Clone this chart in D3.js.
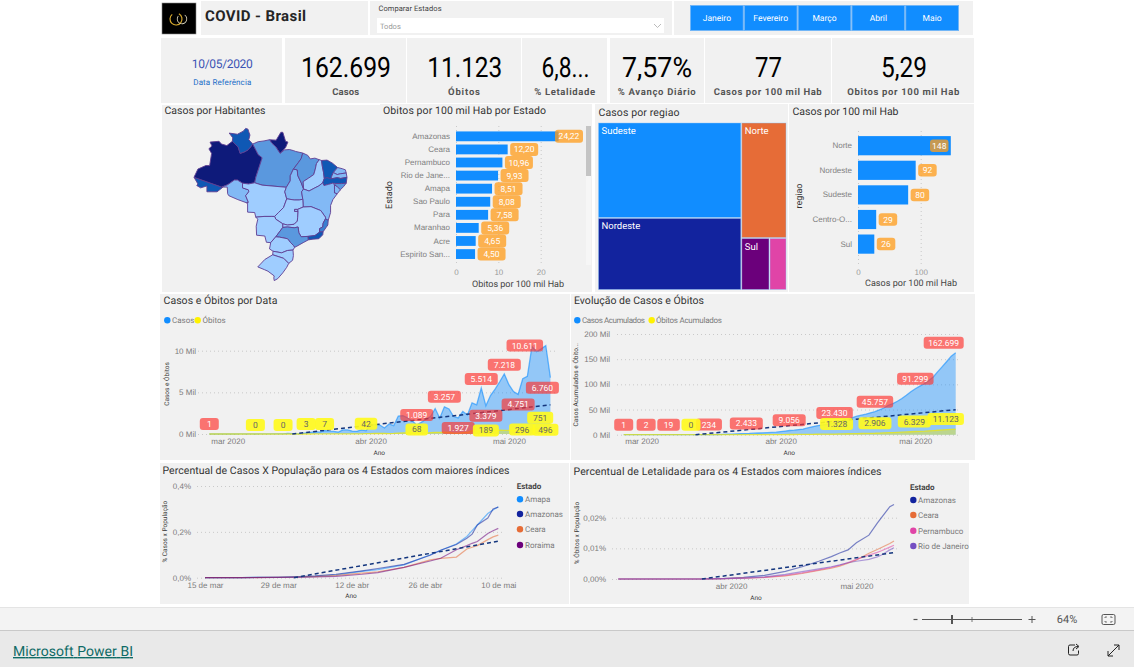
<!DOCTYPE html>
<html lang="pt-BR">
<head>
<meta charset="utf-8">
<title>COVID - Brasil</title>
<script src="https://cdn.jsdelivr.net/npm/d3@7/dist/d3.min.js"></script>
<style>
html,body{margin:0;padding:0;background:#fff;overflow:hidden}
svg{display:block;font-family:Roboto,"Noto Sans",sans-serif;text-rendering:geometricPrecision}
</style>
</head>
<body>
<svg id="c" width="1134" height="667" viewBox="0 0 1134 667"></svg>
<script>
// ---------- DATA ----------
const monthButtons = ["Janeiro","Fevereiro","Março","Abril","Maio"];
const kpiValues = ["162.699","11.123","6,8...","7,57%","77","5,29"];
const kpiLabels = ["Casos","Óbitos","% Letalidade","% Avanço Diário","Casos por 100 mil Hab","Obitos por 100 mil Hab"];

const stateNames = ["AC","AM","RR","AP","PA","RO","MT","TO","MA","PI","CE","RN","PB","PE","AL","SE","BA","GO","DF","MS","MG","ES","RJ","SP","PR","SC","RS"];
const stateBand  = [ 4,   5,   4,   5,   2,   1,   0,   1,   2,   0,   4,   1,   1,   4,   2,   1,   1,   0,   0,   0,   0,   3,   4,   2,   0,   0,   0 ];
const stateLonLat = [
 [[-73.9,-7.3],[-66.8,-9.8],[-66.6,-9.9],[-68,-11],[-69.5,-11],[-70.6,-11],[-70.6,-9.5],[-72.2,-10],[-73.2,-9.4],[-72.9,-9]],
 [[-73.9,-7.3],[-72.9,-5.2],[-70.9,-4.3],[-69.9,-4.3],[-69.4,-1.2],[-70.1,0],[-69.3,0.7],[-69.8,1.7],[-67.5,1.9],[-66.9,1.2],[-65.5,0.8],[-64.1,1.9],[-63.2,1],[-62.6,0.4],[-62.1,-1.2],[-61,-0.8],[-60.1,-0.3],[-59.4,0.5],[-58.9,1.2],[-58,-0.5],[-57.5,-1.5],[-56.5,-2.3],[-56.7,-3],[-58.1,-7.3],[-58.4,-8.7],[-60,-9],[-61.5,-8.8],[-62.8,-8],[-63.6,-8],[-65.3,-9.2],[-66.8,-9.8]],
 [[-60.7,5.2],[-60.1,5],[-59.9,4.3],[-59.6,3.5],[-59.9,2.3],[-58.9,1.2],[-59.4,0.5],[-60.1,-0.3],[-61,-0.8],[-62.1,-1.2],[-62.6,0.4],[-63.2,1],[-64.1,1.9],[-64,2.8],[-64.9,4],[-62.8,3.7],[-61.3,4.5]],
 [[-54.6,2.3],[-52.9,2.2],[-51.7,4.2],[-51.2,4.2],[-50.5,1.9],[-49.9,1.7],[-50.5,0.3],[-51.3,-0.6],[-51.9,-1.2],[-53,0.5],[-54,1.4]],
 [[-58.9,1.2],[-57.5,1.8],[-56,2],[-54.6,2.3],[-54,1.4],[-53,0.5],[-51.9,-1.2],[-50.8,-0.3],[-49.5,-0.2],[-48.4,-0.5],[-47.9,-0.7],[-46.1,-1.1],[-46.5,-2.5],[-47.2,-3.5],[-48.5,-5.2],[-49.3,-6.9],[-49.3,-8.2],[-50.3,-9.85],[-56.5,-9.3],[-58.4,-8.7],[-58.1,-7.3],[-56.7,-3],[-56.5,-2.3],[-57.5,-1.5],[-58,-0.5]],
 [[-66.8,-9.8],[-65.3,-9.2],[-63.6,-8],[-62.8,-8],[-61.5,-8.8],[-61.5,-10],[-60,-10.5],[-59.9,-11],[-60.7,-12],[-60,-13.7],[-60.5,-13.8],[-62.7,-13],[-65,-12],[-65.3,-11.5],[-65.4,-9.8]],
 [[-58.4,-8.7],[-56.5,-9.3],[-50.3,-9.85],[-50.7,-11],[-50.2,-12.8],[-51,-15],[-52.3,-16.3],[-53.3,-17.3],[-54,-17.3],[-56,-17.3],[-58.1,-17.5],[-58.4,-16.3],[-60.2,-16.2],[-60.2,-13.9],[-60.5,-13.8],[-60,-13.7],[-60.7,-12],[-59.9,-11],[-60,-10.5],[-61.5,-10],[-61.5,-8.8],[-60,-9]],
 [[-48.5,-5.2],[-47.5,-5.4],[-47.4,-6.8],[-46.5,-8.7],[-45.9,-10.3],[-46.4,-11],[-46.1,-12.9],[-47,-13.1],[-48.3,-13.1],[-50.2,-12.8],[-50.7,-11],[-50.3,-9.85],[-49.3,-8.2],[-49.3,-6.9]],
 [[-46.1,-1.1],[-44.8,-1.7],[-44.2,-2.6],[-43,-2.4],[-41.9,-2.8],[-42.6,-3.8],[-42.9,-5.2],[-43.3,-6.6],[-44.6,-7.5],[-46,-8.4],[-45.9,-10.3],[-46.5,-8.7],[-47.4,-6.8],[-47.5,-5.4],[-48.5,-5.2],[-47.2,-3.5],[-46.5,-2.5]],
 [[-41.9,-2.8],[-41.3,-3],[-41.1,-4.5],[-40.8,-6],[-40.6,-7.6],[-41,-8.7],[-42,-9.5],[-43,-10],[-44.5,-10.8],[-45.9,-10.3],[-46,-8.4],[-44.6,-7.5],[-43.3,-6.6],[-42.9,-5.2],[-42.6,-3.8]],
 [[-41.3,-3],[-39.9,-2.9],[-38.5,-3.7],[-37.2,-4.8],[-38.3,-6.1],[-38.7,-7],[-38.9,-7.7],[-39.9,-7.4],[-40.6,-7.6],[-40.8,-6],[-41.1,-4.5]],
 [[-37.2,-4.8],[-36,-5.1],[-35.2,-5.4],[-35,-6.2],[-36.5,-6.4],[-37.3,-6.6],[-38.3,-6.1]],
 [[-38.3,-6.1],[-37.3,-6.6],[-36.5,-6.4],[-35,-6.2],[-34.8,-7.3],[-36.4,-7.6],[-37.3,-7.4],[-38.9,-7.7],[-38.7,-7]],
 [[-40.6,-7.6],[-39.9,-7.4],[-38.9,-7.7],[-37.3,-7.4],[-36.4,-7.6],[-34.8,-7.3],[-35,-8.8],[-36.2,-8.9],[-37.6,-8.9],[-38.5,-8.8],[-39.5,-9.1],[-40.7,-9.4],[-41,-8.7]],
 [[-38,-9.2],[-37.6,-8.9],[-36.2,-8.9],[-35,-8.8],[-35.7,-9.7],[-36.5,-10.5],[-37.2,-9.8]],
 [[-38,-9.2],[-37.2,-9.8],[-36.5,-10.5],[-37.3,-11.5],[-38,-11.3],[-38,-10.5]],
 [[-46.1,-12.9],[-46.4,-11],[-45.9,-10.3],[-44.5,-10.8],[-43,-10],[-42,-9.5],[-41,-8.7],[-40.7,-9.4],[-39.5,-9.1],[-38.5,-8.8],[-38,-9.2],[-38,-10.5],[-38,-11.3],[-37.3,-11.5],[-38.4,-13],[-39,-14.5],[-39,-16.3],[-39.6,-18.3],[-40.3,-17.9],[-40.3,-17.5],[-41.5,-15.8],[-44,-14.8],[-46,-14.9]],
 [[-50.2,-12.8],[-48.3,-13.1],[-47,-13.1],[-46.1,-12.9],[-46,-14.9],[-47.4,-15.5],[-48.2,-15.5],[-48.2,-16],[-47.3,-16],[-47.4,-17.5],[-47.5,-18.5],[-48.3,-19.3],[-50,-19.5],[-51.2,-19.2],[-53,-18],[-53.3,-17.3],[-52.3,-16.3],[-51,-15]],
 [[-48.2,-15.5],[-47.4,-15.5],[-47.3,-16],[-48.2,-16]],
 [[-58.1,-17.5],[-57.6,-18],[-58,-19.8],[-57.9,-22.1],[-55.8,-22.3],[-55.4,-23.9],[-54.3,-24],[-53,-22.5],[-51.2,-20.1],[-51.2,-19.2],[-53,-18],[-53.3,-17.3],[-54,-17.3],[-56,-17.3]],
 [[-46,-14.9],[-44,-14.8],[-41.5,-15.8],[-40.3,-17.5],[-40.3,-17.9],[-40.9,-19],[-41,-20],[-41.8,-20.4],[-41.8,-21.3],[-43,-22.2],[-44.8,-22.4],[-46.5,-22.5],[-47.1,-21.5],[-47.3,-20],[-48.3,-20.2],[-50,-20],[-51.2,-20.1],[-51.2,-19.2],[-50,-19.5],[-48.3,-19.3],[-47.5,-18.5],[-47.4,-17.5],[-47.3,-16],[-47.4,-15.5]],
 [[-41.8,-21.3],[-40.9,-21.2],[-40.2,-20.2],[-39.7,-19.5],[-39.6,-18.3],[-40.3,-17.9],[-40.9,-19],[-41,-20],[-41.8,-20.4]],
 [[-44.8,-22.4],[-43,-22.2],[-41.8,-21.3],[-40.9,-21.2],[-41,-22],[-42,-23],[-43.5,-23.1],[-44.7,-23.3]],
 [[-53,-22.5],[-51.2,-20.1],[-50,-20],[-48.3,-20.2],[-47.3,-20],[-47.1,-21.5],[-46.5,-22.5],[-44.8,-22.4],[-44.7,-23.3],[-46,-24],[-47.6,-24.9],[-48.2,-25.2],[-48.5,-24.7],[-49.3,-23.9],[-50,-23],[-52,-22.6]],
 [[-53,-22.5],[-52,-22.6],[-50,-23],[-49.3,-23.9],[-48.5,-24.7],[-48.2,-25.2],[-48.6,-25.9],[-50,-26],[-51.5,-26.6],[-53.7,-26.2],[-54.6,-25.6],[-54.3,-24]],
 [[-48.6,-25.9],[-48.5,-27.3],[-48.7,-28.5],[-49.7,-29.3],[-51,-28],[-53.8,-27.1],[-53.7,-26.2],[-51.5,-26.6],[-50,-26]],
 [[-49.7,-29.3],[-50.2,-30.3],[-51.2,-31.7],[-52.5,-33.2],[-53.4,-33.7],[-53.5,-33],[-53.4,-32.5],[-55,-31.3],[-55.9,-30.9],[-57.6,-30.2],[-55.8,-28.3],[-53.8,-27.1],[-51,-28]]
];

const deathStates = ["Amazonas","Ceara","Pernambuco","Rio de Jane...","Amapa","Sao Paulo","Para","Maranhao","Acre","Espirito San..."];
const deathRates  = [24.22,12.20,10.96,9.93,8.51,8.08,7.58,5.36,4.65,4.50];

const regions = ["Sudeste","Nordeste","Norte","Sul","Centro-Oeste"];
const regionCases = [70450,53250,26900,7540,4559];
const regionRateNames = ["Norte","Nordeste","Sudeste","Centro-O...","Sul"];
const regionRates = [148,92,80,29,26];

// daily series, one value per day from 26 Feb to 10 May 2020
const dailyCases = [1,0,0,0,1,0,1,5,3,5,3,6,7,9,25,21,23,58,40,26,57,137,193,283,225,418,345,310,231,502,487,352,323,500,400,1138,1119,1074,728,1200,1000,2150,2200,1950,1600,1089,1400,1785,2100,3058,1900,3257,3000,2100,1927,2700,2285,3735,3503,5514,3379,4613,5385,6276,7218,5919,5097,4751,6633,6935,10503,9888,10222,10611,6760];
const dailyDeaths = [0,0,0,0,0,0,0,0,0,0,0,0,0,0,0,0,0,0,0,0,1,3,2,5,4,7,11,13,11,20,15,22,22,23,42,40,58,60,73,54,67,114,133,141,115,68,99,105,160,204,188,217,206,115,113,166,209,407,357,346,189,338,474,449,435,428,421,296,600,615,610,610,751,395,496];
const totalCases = [1,1,1,1,2,2,3,8,11,16,19,25,32,41,66,87,110,168,208,234,291,428,621,904,1129,1547,1892,2202,2433,2935,3422,3774,4097,4597,4997,6135,7254,8328,9056,10256,11256,13406,15606,17556,19156,20245,21645,23430,25530,28588,30488,33745,36745,38845,40772,43472,45757,49492,52995,58509,61888,66501,71886,78162,85380,91299,96396,101147,107780,114715,125218,135106,145328,155939,162699];
const totalDeaths = [0,0,0,0,0,0,0,0,0,0,0,0,0,0,0,0,0,0,0,0,1,4,6,11,15,22,33,46,57,77,92,114,136,159,201,241,299,359,432,486,553,667,800,941,1056,1124,1223,1328,1488,1692,1880,2097,2303,2418,2531,2697,2906,3313,3670,4016,4205,4543,5017,5466,5901,6329,6750,7046,7646,8261,8871,9481,10232,10627,11123];
const dailyTicks = [0,5000,10000];
const totalTicks = [0,50000,100000,150000,200000];
const monthTickDays = [4,35,65];
const monthTickLabels = ["mar 2020","abr 2020","mai 2020"];
const dailyTrendDays = [18,74];
const dailyTrendValues = [0,3500];
const totalTrendDays = [16,74];
const totalTrendValues = [0,49700];
const dailyCaseLabelDays = [0,45,51,54,59,60,64,67,73,74];
const dailyDeathLabelDays = [10,16,21,25,34,45,60,67,72,74];
const totalCaseLabelDays = [0,5,10,19,28,38,47,56,65,74];
const totalDeathLabelDays = [15,47,56,65,74];

// percent of population, by days after 15 Mar
const popDays = [0,7,14,18,21,25,30,33,38,43,45,48,50,51,52,54,55,56];
const popAmapa    = [0,.0005,.002,.004,.006,.012,.028,.035,.056,.1,.12,.147,.18,.205,.23,.28,.295,.31];
const popAmazonas = [0,.0005,.002,.005,.008,.015,.03,.04,.058,.098,.12,.145,.172,.19,.23,.26,.30,.308];
const popCeara    = [0,0,.002,.003,.005,.01,.02,.026,.045,.078,.084,.09,.125,.133,.14,.166,.178,.186];
const popRoraima  = [0,0,.001,.002,.003,.006,.015,.022,.045,.073,.085,.122,.14,.15,.158,.193,.205,.215];
const popNames = ["Amapa","Amazonas","Ceara","Roraima"];
const popTicks = [0,.2,.4];
const popTickDays = [0,14,28,42,56];
const popTickLabels = ["15 de mar","29 de mar","12 de abr","26 de abr","10 de mai"];
const popTrendDays = [17,56];
const popTrendValues = [0,.159];

// lethality percent, by days after 5 Mar
const letDays = [0,20,25,30,35,40,44,48,51,53,55,57,60,62,63,65,66];
const letAmazonas = [0,0,.0001,.0005,.0012,.0025,.004,.0058,.0073,.0085,.0095,.0118,.0143,.0182,.02,.0236,.0243];
const letCeara    = [0,0,.0001,.0003,.0005,.001,.0018,.0028,.0035,.0042,.0052,.0062,.0084,.0096,.0103,.0116,.0124];
const letPernamb  = [0,0,.0001,.0003,.0005,.0012,.002,.003,.0038,.0045,.0054,.0064,.0078,.0087,.0092,.0104,.011];
const letRio      = [0,0,.0001,.0003,.0007,.0015,.0024,.0033,.004,.0046,.0053,.0058,.0064,.0072,.0078,.0095,.0102];
const letNames = ["Amazonas","Ceara","Pernambuco","Rio de Janeiro"];
const letTicks = [0,.01,.02];
const letTickDays = [27,57];
const letTickLabels = ["abr 2020","mai 2020"];
const letTrendDays = [20,66];
const letTrendValues = [0,.0086];

// ---------- STYLE / LAYOUT ----------
const C = {blue:"#118dff",navy:"#12239e",orange:"#e66c37",purple:"#6b007b",pink:"#e044a7",violet:"#744ec2",panel:"#f1f1f1",txt:"#3a3a3a",tick:"#7b7b7b"};
const bandColors = ["#9fcdff","#82b9f5","#5a98de","#3a80d0","#0f58b4","#0e1a7a"];
const dailyCaseDy = [10,10,10,-10,9,-10,9,-10,0,-10], dailyCaseDx = [0,0,0,0,0,0,0,0,-21,-8];
const dailyDeathDy = [9,9,10,10,10,4,2,2,10,0], dailyDeathDx = [0,0,0,0,0,0,0,4,-1,-5];
const totalCaseDx = [0,0,0,0,-3,-5,0,0,0,-12];
const totalDeathDx = [0,2,0,-1,-10];

const locale = d3.formatLocale({decimal:",",thousands:".",grouping:[3],currency:["",""]});
const fmtInt = locale.format(",d"), fmt2 = locale.format(".2f");
const svg = d3.select("#c");

function panel(x0,y0,x1,y1){svg.append("rect").attr("x",x0).attr("y",y0).attr("width",x1-x0).attr("height",y1-y0).attr("fill",C.panel);}
function text(t,x,y,o={}){
  const e=(o.g||svg).append("text").text(t).attr("x",x).attr("y",y)
   .attr("font-size",o.size||8).attr("fill",o.fill||C.txt).attr("text-anchor",o.anchor||"start")
   .attr("font-weight",o.weight||400);
  if(o.ls)e.attr("letter-spacing",o.ls);
  if(o.len)e.attr("textLength",o.len).attr("lengthAdjust",o.adj||"spacing");
  if(o.rot)e.attr("transform",`rotate(-90 ${x} ${y})`);
  return e;
}
function title(t,x,y,len){return text(t,x,y,{size:10.5,fill:"#333",len});}
function pill(g,cx,cy,label,fill,txtFill,w,h=12){
  g.append("rect").attr("x",cx-w/2).attr("y",cy-h/2).attr("width",w).attr("height",h).attr("rx",3).attr("fill",fill);
  g.append("text").text(label).attr("x",cx).attr("y",cy+3).attr("text-anchor","middle").attr("font-size",8.5).attr("fill",txtFill);
}
const pillW = s => 15.5+3.5*s.length;
function styleAxis(g,size=8,fill=C.tick){
  g.select(".domain").remove();
  g.selectAll("text").attr("font-size",size).attr("fill",fill).attr("font-family","inherit");
  g.selectAll("line").attr("stroke","#c9c9c9").attr("stroke-dasharray","1,3");
}
function xAxis(scale,days,labels,y){
  const g=svg.append("g").attr("transform",`translate(0,${y})`)
    .call(d3.axisBottom(scale).tickValues(days).tickFormat((d,i)=>labels[i]).tickSize(0).tickPadding(0));
  styleAxis(g);
}
function yAxis(scale,ticks,fmt,x,gridW,textX){
  const g=svg.append("g").attr("transform",`translate(${x},0)`)
    .call(d3.axisLeft(scale).tickValues(ticks).tickFormat(fmt).tickSize(-gridW).tickPadding(x-textX));
  styleAxis(g);
}
function dashed(xs,ys,days,vals){
  svg.append("path").attr("d",d3.line().x(d=>xs(d[0])).y(d=>ys(d[1]))(days.map((d,i)=>[d,vals[i]])))
   .attr("fill","none").attr("stroke","#14367e").attr("stroke-width",1.5).attr("stroke-dasharray","4,3");
}
function legendDot(x,y,color,label,tx,len){
  svg.append("circle").attr("cx",x).attr("cy",y).attr("r",3.2).attr("fill",color);
  text(label,tx,y+3,{fill:C.tick,size:8,len});
}

// ---------- PANELS ----------
[[201,1,368,35],[370,1,672,35],[674,1,973,35],[161,38,282,103],[285,38,406,103],[407,38,521,103],[522,38,607,103],[610,38,704,103],[705,38,831,103],[832,38,974,103],
 [162,105,380,292],[380,104,592,292],[595,104,788,292],[789,104,974,292],[160,294,570,460],[571,294,975,460],[160,463,569,604],[570,463,969,604]].forEach(p=>panel(...p));

// header
svg.append("rect").attr("x",162).attr("y",3).attr("width",34).attr("height",31).attr("fill","#000").attr("stroke","#888").attr("stroke-width",.6);
svg.append("path").attr("d",d3.arc()({innerRadius:5.4,outerRadius:6.6,startAngle:.5,endAngle:5.6})).attr("transform","translate(176,19)").attr("fill","#d6a92e");
svg.append("path").attr("d",d3.arc()({innerRadius:4.4,outerRadius:5.2,startAngle:.6,endAngle:5.4})).attr("transform","translate(182,19)").attr("fill","#e8e2c8");
text("COVID - Brasil",205,21,{size:15,weight:700,fill:"#252525",len:101});
text("Comparar Estados",378.5,11,{size:7.5,fill:"#444",len:63});
svg.append("rect").attr("x",377).attr("y",18).attr("width",287).attr("height",15).attr("fill","#fff");
text("Todos",380,29,{size:7.5,fill:"#999"});
svg.append("path").attr("d","M654 24 l3.5 3.5 l3.5 -3.5").attr("fill","none").attr("stroke","#aaa").attr("stroke-width",.8);
const btnX=d3.scaleBand().domain(monthButtons).range([690,959]);
monthButtons.forEach(m=>{
  svg.append("rect").attr("x",btnX(m)+.5).attr("y",5.5).attr("width",btnX.bandwidth()-1).attr("height",25).attr("fill",C.blue).attr("stroke","#72b6f7").attr("stroke-width",1);
  text(m,btnX(m)+btnX.bandwidth()/2,21,{size:8.5,fill:"#fff",anchor:"middle"});
});

// KPIs
text("10/05/2020",222.3,68,{size:12,fill:"#3c55b4",anchor:"middle",len:61});
text("Data Referência",222.3,85,{size:8,fill:"#1e6fc8",anchor:"middle",len:58});
const kpiCx=[346,464.8,565.5,657,768.5,904], kpiLen=[90,75,48,70,27,46], labCx=[345.7,464,564.7,656.7,767.7,903.3], labLen=[27,32,61,78,108,112];
kpiValues.forEach((v,i)=>{
  text(v,kpiCx[i],77,{size:28,fill:"#000",anchor:"middle",len:kpiLen[i],adj:"spacingAndGlyphs"});
  text(kpiLabels[i],labCx[i],95,{size:9.5,weight:700,fill:"#555",anchor:"middle",len:labLen[i]});
});

// ---------- MAP ----------
title("Casos por Habitantes",164.5,114,101);
const geoPts={type:"MultiPoint",coordinates:stateLonLat.flat()};
const proj=d3.geoEquirectangular().fitExtent([[194,128],[347,281]],geoPts);
const polyLine=d3.line();
svg.append("g").selectAll("path").data(stateNames).join("path")
  .attr("d",(n,i)=>polyLine(stateLonLat[i].map(p=>proj(p)))+"Z")
  .attr("fill",(n,i)=>bandColors[stateBand[i]])
  .attr("stroke","#5f3d92").attr("stroke-width",.9).attr("stroke-linejoin","round");

// ---------- HORIZONTAL BARS ----------
function hbars(names,vals,o){
  const x=d3.scaleLinear().domain(o.domain).range(o.xr);
  const y=d3.scaleBand().domain(names).range(o.yr).paddingInner(o.pad).paddingOuter(o.pad/2);
  const gx=svg.append("g").attr("transform",`translate(0,${o.tickY})`)
    .call(d3.axisBottom(x).tickValues(o.ticks).tickSize(-(o.tickY-o.gridTop)).tickPadding(0));
  styleAxis(gx,8,"#999");
  gx.selectAll("text").attr("dy",o.tickDy);
  const gy=svg.append("g").attr("transform",`translate(${o.xr[0]},0)`)
    .call(d3.axisLeft(y).tickSize(0).tickPadding(o.xr[0]-o.labelX));
  styleAxis(gy,8,"#808080");
  svg.append("g").selectAll("rect").data(names).join("rect")
    .attr("x",x(0)).attr("y",d=>y(d)).attr("width",(d,i)=>x(vals[i])-x(0)).attr("height",y.bandwidth()).attr("fill",C.blue);
  const g=svg.append("g");
  names.forEach((n,i)=>{
    const lab=o.fmt(vals[i]), w=o.pw;
    const left=Math.min(x(vals[i])+2.5,o.maxRight-w);
    pill(g,left+w/2,y(n)+y.bandwidth()/2,lab,"rgba(255,157,28,.76)","#fff",w,o.ph);
  });
}
title("Obitos por 100 mil Hab por Estado",383,114,163);
hbars(deathStates,deathRates,{domain:[0,20],xr:[456,540.7],yr:[129.8,260.6],pad:.25,ticks:[0,10,20],tickY:263,gridTop:126,tickDy:"1.5em",labelX:450,fmt:fmt2,pw:28,ph:13,maxRight:583});
text("Obitos por 100 mil Hab",518,287,{size:9,fill:"#444",anchor:"middle",len:92});
text("Estado",392,195,{size:9,fill:"#333",anchor:"middle",rot:1});
svg.append("rect").attr("x",586).attr("y",126).attr("width",5).attr("height",139).attr("fill","#f6f6f6");
svg.append("rect").attr("x",586).attr("y",126).attr("width",5).attr("height",50).attr("fill","#c4c4c4");

title("Casos por 100 mil Hab",792.5,115,106);
hbars(regionRateNames,regionRates,{domain:[0,100],xr:[858,920.7],yr:[133.4,256.4],pad:.22,ticks:[0,100],tickY:264,gridTop:128,tickDy:"1.35em",labelX:852,fmt:d3.format("d"),pw:18.5,ph:12.5,maxRight:948.5});
text("Casos por 100 mil Hab",911,286,{size:9,fill:"#444",anchor:"middle",len:92});
text("regiao",802,196,{size:9,fill:"#333",anchor:"middle",rot:1});

// ---------- TREEMAP ----------
title("Casos por regiao",598.5,116,81);
const tree={children:[
  {children:[{name:regions[0],value:regionCases[0]},{name:regions[1],value:regionCases[1]}]},
  {children:[{name:regions[2],value:regionCases[2]},{children:[{name:regions[3],value:regionCases[3]},{name:regions[4],value:regionCases[4]}]}]}
]};
const treeRoot=d3.hierarchy(tree).sum(d=>d.value||0);
d3.treemap().size([187.5,166.5]).paddingInner(1)
  .tile((n,x0,y0,x1,y1)=>(n.depth%2===0?d3.treemapDice:d3.treemapSlice)(n,x0,y0,x1,y1))(treeRoot);
const regionColor=d3.scaleOrdinal().domain(regions).range([C.blue,C.navy,C.orange,C.purple,C.pink]);
const tg=svg.append("g").attr("transform","translate(598.5,123)");
treeRoot.leaves().forEach(l=>{
  tg.append("rect").attr("x",l.x0).attr("y",l.y0).attr("width",l.x1-l.x0).attr("height",l.y1-l.y0)
    .attr("fill",regionColor(l.data.name)).attr("stroke","#8fc4f7").attr("stroke-opacity",.55).attr("stroke-width",.8);
  if(l.data.name!=="Centro-Oeste") text(l.data.name,l.x0+3,l.y0+11,{g:tg,size:9.5,fill:"#fff"});
});

// ---------- AREA CHARTS ----------
function areaChart(cases,deaths,o){
  const x=d3.scaleLinear().domain([0,74]).range(o.xr);
  const y=d3.scaleLinear().domain(o.yd).range(o.yr);
  yAxis(y,o.yt,o.yf,o.gx0,o.gx1-o.gx0,o.yTextX);
  xAxis(x,monthTickDays,monthTickLabels,o.xTickY);
  const days=cases.map((_,i)=>i);
  const area=s=>d3.area().x(d=>x(d)).y0(y(0)).y1(d=>y(s[d]))(days);
  const line=s=>d3.line().x(d=>x(d)).y(d=>y(s[d]))(days);
  svg.append("path").attr("d",area(cases)).attr("fill",C.blue).attr("fill-opacity",.42);
  svg.append("path").attr("d",area(deaths)).attr("fill","#f2ea00").attr("fill-opacity",.42);
  svg.append("path").attr("d",line(cases)).attr("fill","none").attr("stroke",C.blue).attr("stroke-opacity",.6).attr("stroke-width",1.3);
  svg.append("path").attr("d",line(deaths)).attr("fill","none").attr("stroke","#f2ea00").attr("stroke-opacity",.7).attr("stroke-width",1.3);
  dashed(x,y,o.tDays,o.tVals);
  const g=svg.append("g");
  o.caseDays.forEach((d,i)=>{
    const s=fmtInt(cases[d]);
    pill(g,x(d)+o.caseDx[i],y(cases[d])-o.caseDy[i],s,"rgba(255,50,45,.66)","#fff",pillW(s));
  });
  o.deathDays.forEach((d,i)=>{
    const s=fmtInt(deaths[d]);
    pill(g,x(d)+o.deathDx[i],y(deaths[d])-o.deathDy[i],s,"rgba(255,250,30,.92)","#666",pillW(s));
  });
}
const milFmt=v=>`${v/1000} Mil`;

title("Casos e Óbitos por Data",163.5,304,114);
legendDot(167.3,320.3,C.blue,"Casos",172);
legendDot(197.7,320.3,"#fff200","Óbitos",202.5);
areaChart(dailyCases,dailyDeaths,{xr:[209.3,550.4],yd:[0,10000],yr:[434,350.7],yt:dailyTicks,yf:milFmt,gx0:198,gx1:557,yTextX:196,xTickY:438,
  tDays:dailyTrendDays,tVals:dailyTrendValues,caseDays:dailyCaseLabelDays,caseDy:dailyCaseDy,caseDx:dailyCaseDx,deathDays:dailyDeathLabelDays,deathDy:dailyDeathDy,deathDx:dailyDeathDx});
text("Ano",379.3,455,{size:6.5,anchor:"middle"});
text("Casos e Óbitos",168.5,384,{size:6.5,anchor:"middle",rot:1});

title("Evolução de Casos e Óbitos",574,304,130);
legendDot(577.3,320.3,C.blue,"Casos Acumulados",582,63);
legendDot(651.7,320.3,"#fff200","Óbitos Acumulados",656,66);
areaChart(totalCases,totalDeaths,{xr:[623.7,955.7],yd:[0,200000],yr:[434.7,334],yt:totalTicks,yf:milFmt,gx0:617,gx1:960,yTextX:610,xTickY:438,
  tDays:totalTrendDays,tVals:totalTrendValues,caseDays:totalCaseLabelDays,caseDy:totalCaseLabelDays.map(()=>10),caseDx:totalCaseDx,deathDays:totalDeathLabelDays,deathDy:totalDeathLabelDays.map(()=>10),deathDx:totalDeathDx});
text("Ano",789.3,455,{size:6.5,anchor:"middle"});
text("Casos Acumulados e Óbito...",578,384.7,{size:6.5,anchor:"middle",rot:1});

// ---------- LINE CHARTS ----------
function lineChart(days,series,colors,o){
  const x=d3.scaleLinear().domain(o.xd).range(o.xr);
  const y=d3.scaleLinear().domain(o.yd).range(o.yr);
  yAxis(y,o.yt,o.yf,o.gx0,o.gx1-o.gx0,o.yTextX);
  xAxis(x,o.tickDays,o.tickLabels,o.xTickY);
  const ln=d3.line().x(d=>x(d[0])).y(d=>y(d[1]));
  series.forEach((s,i)=>{
    svg.append("path").attr("d",ln(days.map((d,k)=>[d,s[k]]))).attr("fill","none").attr("stroke",colors[i]).attr("stroke-opacity",.55).attr("stroke-width",1.2);
  });
  dashed(x,y,o.tDays,o.tVals);
}
const pctFmt=dec=>v=>locale.format(`.${dec}f`)(v)+"%";

title("Percentual de Casos X População para os 4 Estados com maiores índices",162.5,474,347);
const popColors=[C.blue,C.navy,C.orange,C.purple];
lineChart(popDays,[popAmapa,popAmazonas,popCeara,popRoraima],popColors,{xd:[0,56],xr:[205,498.3],yd:[0,.4],yr:[577.7,486],yt:popTicks,yf:pctFmt(1),gx0:197,gx1:505,yTextX:191,xTickY:582,tickDays:popTickDays,tickLabels:popTickLabels,tDays:popTrendDays,tVals:popTrendValues});
text("Ano",351,598,{size:6.5,anchor:"middle"});
text("% Casos x População",167.5,531.7,{size:6.5,anchor:"middle",rot:1});
text("Estado",516.7,489,{size:8,weight:700,fill:"#444"});
popNames.forEach((n,i)=>legendDot(520,[499.3,514,529.3,545][i],popColors[i],n,525));

title("Percentual de Letalidade para os 4 Estados com maiores índices",573.5,475,308);
const letColors=[C.navy,C.orange,C.pink,C.violet];
lineChart(letDays,[letAmazonas,letCeara,letPernamb,letRio],letColors,{xd:[0,66],xr:[618.3,894],yd:[0,.02],yr:[579,517.7],yt:letTicks,yf:pctFmt(2),gx0:612,gx1:900,yTextX:606,xTickY:583,tickDays:letTickDays,tickLabels:letTickLabels,tDays:letTrendDays,tVals:letTrendValues});
text("Ano",756,600,{size:6.5,anchor:"middle"});
text("% Óbitos x População",579,533,{size:6.5,anchor:"middle",rot:1});
text("Estado",910,490,{size:8,weight:700,fill:"#444"});
letNames.forEach((n,i)=>legendDot(913.3,[500,515,530.7,546][i],letColors[i],n,918));

// ---------- FOOTER ----------
svg.append("rect").attr("x",0).attr("y",607).attr("width",1134).attr("height",23).attr("fill","#f3f3f3");
svg.append("rect").attr("x",0).attr("y",607).attr("width",1134).attr("height",1).attr("fill","#e4e4e4");
svg.append("rect").attr("x",0).attr("y",630).attr("width",1134).attr("height",37).attr("fill","#e9e9e9");
svg.append("rect").attr("x",0).attr("y",630).attr("width",1134).attr("height",1).attr("fill","#c9c9c9");
const f=svg.append("g").attr("stroke","#555").attr("fill","none");
f.append("path").attr("d","M913.5 619.5h4").attr("stroke-width",1.2);
f.append("path").attr("d","M922 619.5h100").attr("stroke-width",1);
f.append("path").attr("d","M952 615v9").attr("stroke-width",2);
f.append("path").attr("d","M972 617v5").attr("stroke-width",.8);
f.append("path").attr("d","M1028.5 619.5h7M1032 616v7").attr("stroke-width",1);
text("64%",1067,623,{size:11,anchor:"middle",fill:"#555"});
f.append("rect").attr("x",1102).attr("y",614.5).attr("width",13).attr("height",10).attr("rx",1.5).attr("stroke-width",1);
f.append("path").attr("d","M1105 618v-1h2M1112 618v-1h-2M1105 621v1h2M1112 621v1h-2").attr("stroke-width",.8);
text("Microsoft Power BI",13,656,{size:14,fill:"#0f6b66",len:120}).attr("text-decoration","underline");
const ic=svg.append("g").attr("stroke","#222").attr("fill","none").attr("stroke-width",1);
ic.append("path").attr("d","M1075 645h-5a1.5 1.5 0 0 0 -1.5 1.5v7a1.5 1.5 0 0 0 1.5 1.5h7a1.5 1.5 0 0 0 1.5 -1.5v-3M1073 651c0 -3 2 -4.5 5 -4.5M1076 644l3 2.5l-3 2.5");
ic.append("path").attr("d","M1108 656l11 -11M1114 645h5v5M1108 651v5h5");
</script>
</body>
</html>
